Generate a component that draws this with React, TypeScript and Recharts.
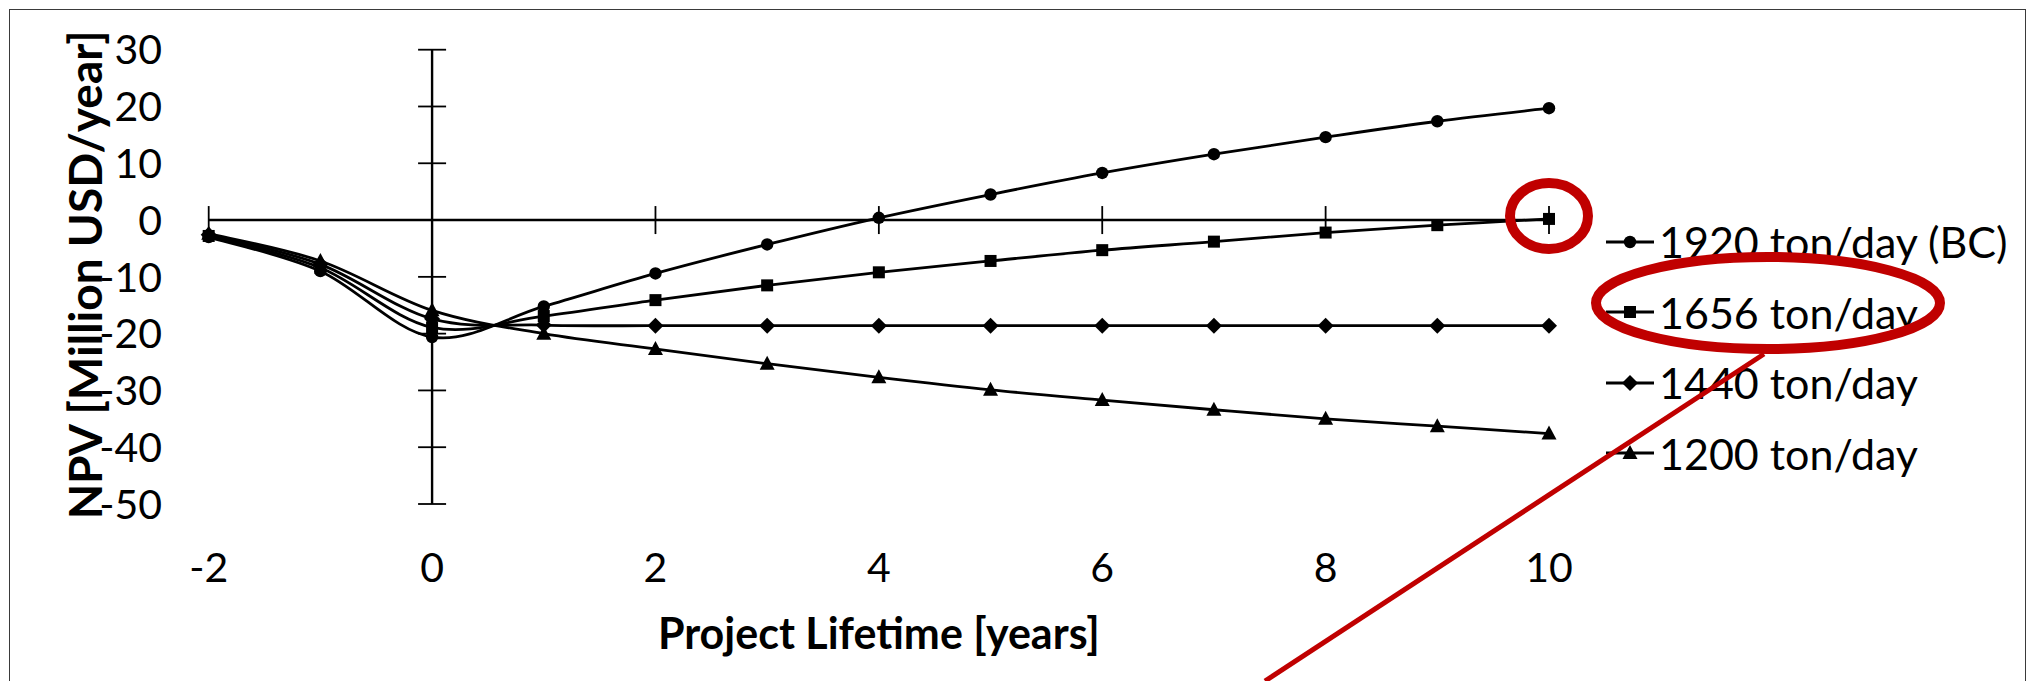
import React from "react";
import { LineChart, Line, XAxis, YAxis, ReferenceLine, ReferenceDot, Legend } from "recharts";

const FONT = 'Lato, "Open Sans", sans-serif';
const RED = "#C00000";

const years = [-2, -1, 0, 1, 2, 3, 4, 5, 6, 7, 8, 9, 10];
const npv1920 = [-3.0, -9.0, -20.6, -15.2, -9.4, -4.3, 0.4, 4.5, 8.3, 11.6, 14.6, 17.4, 19.7];
const npv1656 = [-2.8, -8.4, -18.9, -16.9, -14.1, -11.5, -9.2, -7.2, -5.3, -3.8, -2.2, -0.9, 0.2];
const npv1440 = [-2.6, -7.8, -17.4, -18.5, -18.6, -18.6, -18.6, -18.6, -18.6, -18.6, -18.6, -18.6, -18.6];
const npv1200 = [-2.4, -7.2, -15.9, -20.0, -22.7, -25.3, -27.7, -29.9, -31.7, -33.4, -35.0, -36.3, -37.6];

const xTicks = [-2, 0, 2, 4, 6, 8, 10];
const yTicks = [30, 20, 10, 0, -10, -20, -30, -40, -50];

const series = [
  { key: "s1920", name: "1920 ton/day (BC)", marker: "circle" },
  { key: "s1656", name: "1656 ton/day", marker: "square" },
  { key: "s1440", name: "1440 ton/day", marker: "diamond" },
  { key: "s1200", name: "1200 ton/day", marker: "triangle" },
];

const data = years.map((year, i) => ({
  year,
  s1920: npv1920[i],
  s1656: npv1656[i],
  s1440: npv1440[i],
  s1200: npv1200[i],
}));

// excel-like smoothed line (catmull-rom as bezier)
const excelSmooth = (context: any) => {
  let pts: number[][] = [];
  return {
    areaStart() {},
    areaEnd() {},
    lineStart() {
      pts = [];
    },
    lineEnd() {
      const n = pts.length;
      if (!n) return;
      context.moveTo(pts[0][0], pts[0][1]);
      for (let i = 0; i < n - 1; i++) {
        const p0 = pts[Math.max(i - 1, 0)];
        const p1 = pts[i];
        const p2 = pts[i + 1];
        const p3 = pts[Math.min(i + 2, n - 1)];
        context.bezierCurveTo(
          p1[0] + (p2[0] - p0[0]) / 6,
          p1[1] + (p2[1] - p0[1]) / 6,
          p2[0] - (p3[0] - p1[0]) / 6,
          p2[1] - (p3[1] - p1[1]) / 6,
          p2[0],
          p2[1]
        );
      }
    },
    point(x: number, y: number) {
      pts.push([+x, +y]);
    },
  };
};

const Marker = ({ kind, cx, cy }: { kind: string; cx: number; cy: number }) => {
  if (kind === "circle") return <circle cx={cx} cy={cy} r={6.2} fill="#000" />;
  if (kind === "square") return <rect x={cx - 6} y={cy - 6} width={12} height={12} fill="#000" />;
  if (kind === "diamond")
    return <polygon points={`${cx},${cy - 8} ${cx + 8},${cy} ${cx},${cy + 8} ${cx - 8},${cy}`} fill="#000" />;
  return <polygon points={`${cx},${cy - 8} ${cx + 7.5},${cy + 6} ${cx - 7.5},${cy + 6}`} fill="#000" />;
};

const LegendBox = () => (
  <div style={{ fontFamily: FONT, fontSize: 43, color: "#000" }}>
    {series.map((s) => (
      <div key={s.key} style={{ display: "flex", alignItems: "center", height: 70.5 }}>
        <svg width={48} height={20} style={{ overflow: "visible" }}>
          <line x1={0} y1={10} x2={48} y2={10} stroke="#000" strokeWidth={2.8} />
          <Marker kind={s.marker} cx={24} cy={10} />
        </svg>
        <span style={{ marginLeft: 5, whiteSpace: "nowrap" }}>{s.name}</span>
      </div>
    ))}
  </div>
);

const XTick = (p: any) => (
  <text x={p.x} y={p.y + 63} dy="0.36em" textAnchor="middle" fontFamily={FONT} fontSize={41} fill="#000">
    {p.payload.value}
  </text>
);

const YTick = (p: any) => (
  <text x={p.x - 46.7} y={p.y} dy="0.36em" textAnchor="end" fontFamily={FONT} fontSize={41} fill="#000">
    {p.payload.value}
  </text>
);

export default function App() {
  return (
    <div style={{ position: "fixed", left: 0, top: 0, width: 2029, height: 681, background: "#fff", overflow: "hidden" }}>
      <div
        style={{
          position: "absolute",
          left: 9,
          top: 9,
          width: 2017,
          height: 720,
          border: "1.5px solid #3a3a3a",
          boxSizing: "border-box",
        }}
      />
      <div style={{ position: "absolute", left: 0, top: 0 }}>
        <LineChart width={2029} height={681} data={data} margin={{ top: 49.7, right: 480, bottom: 117, left: 108.7 }}>
          <XAxis
            dataKey="year"
            type="number"
            domain={[-2, 10]}
            ticks={xTicks}
            axisLine={false}
            tickLine={false}
            tickSize={0}
            tickMargin={0}
            height={60}
            tick={XTick}
            label={{
              content: (props: any) => {
                const vb = props.viewBox;
                return (
                  <text
                    x={vb.x + vb.width / 2}
                    y={vb.y + 130}
                    dy="0.36em"
                    textAnchor="middle"
                    fontFamily={FONT}
                    fontWeight="bold"
                    fontSize={43}
                    fill="#000"
                  >
                    Project Lifetime [years]
                  </text>
                );
              },
            }}
          />
          <YAxis
            type="number"
            domain={[-50, 30]}
            ticks={yTicks}
            axisLine={false}
            tickLine={false}
            tickSize={0}
            tickMargin={0}
            width={100}
            tick={YTick}
            label={{
              content: (props: any) => {
                const vb = props.viewBox;
                const cx = vb.x - 23.7;
                const cy = vb.y + vb.height / 2 - 2;
                return (
                  <text
                    x={cx}
                    y={cy}
                    dy="0.36em"
                    textAnchor="middle"
                    transform={`rotate(-90, ${cx}, ${cy})`}
                    fontFamily={FONT}
                    fontWeight="bold"
                    fontSize={46}
                    fill="#000"
                  >
                    NPV [Million USD/year]
                  </text>
                );
              },
            }}
          />
          <ReferenceLine y={0} stroke="#000" strokeWidth={2.4} />
          <ReferenceLine x={0} stroke="#000" strokeWidth={2.4} />
          {yTicks.map((t) => (
            <ReferenceDot
              key={"yt" + t}
              x={0}
              y={t}
              shape={(p: any) => <line x1={p.cx - 14} y1={p.cy} x2={p.cx + 14} y2={p.cy} stroke="#000" strokeWidth={1.8} />}
            />
          ))}
          {xTicks.map((t) => (
            <ReferenceDot
              key={"xt" + t}
              x={t}
              y={0}
              shape={(p: any) => <line x1={p.cx} y1={p.cy - 14} x2={p.cx} y2={p.cy + 14} stroke="#000" strokeWidth={1.8} />}
            />
          ))}
          {series.map((s) => (
            <Line
              key={s.key}
              dataKey={s.key}
              name={s.name}
              type={excelSmooth as any}
              stroke="#000"
              strokeWidth={2.8}
              isAnimationActive={false}
              dot={(p: any) => <Marker key={s.key + p.index} kind={s.marker} cx={p.cx} cy={p.cy} />}
              activeDot={false}
            />
          ))}
          <ReferenceDot
            x={years[years.length - 1]}
            y={npv1656[npv1656.length - 1]}
            shape={(p: any) => <ellipse cx={p.cx} cy={p.cy - 3} rx={39} ry={33} fill="none" stroke={RED} strokeWidth={10} />}
          />
          <Legend
            layout="vertical"
            align="center"
            verticalAlign="middle"
            content={LegendBox}
            wrapperStyle={{ left: 1606, top: 206.5, width: "auto", height: "auto" }}
          />
        </LineChart>
      </div>
      <svg width={2029} height={681} style={{ position: "absolute", left: 0, top: 0, pointerEvents: "none" }}>
        <ellipse cx={1768} cy={303} rx={172} ry={46} fill="none" stroke={RED} strokeWidth={10} />
        <line x1={1764} y1={354} x2={1265} y2={681} stroke={RED} strokeWidth={5} />
      </svg>
    </div>
  );
}
